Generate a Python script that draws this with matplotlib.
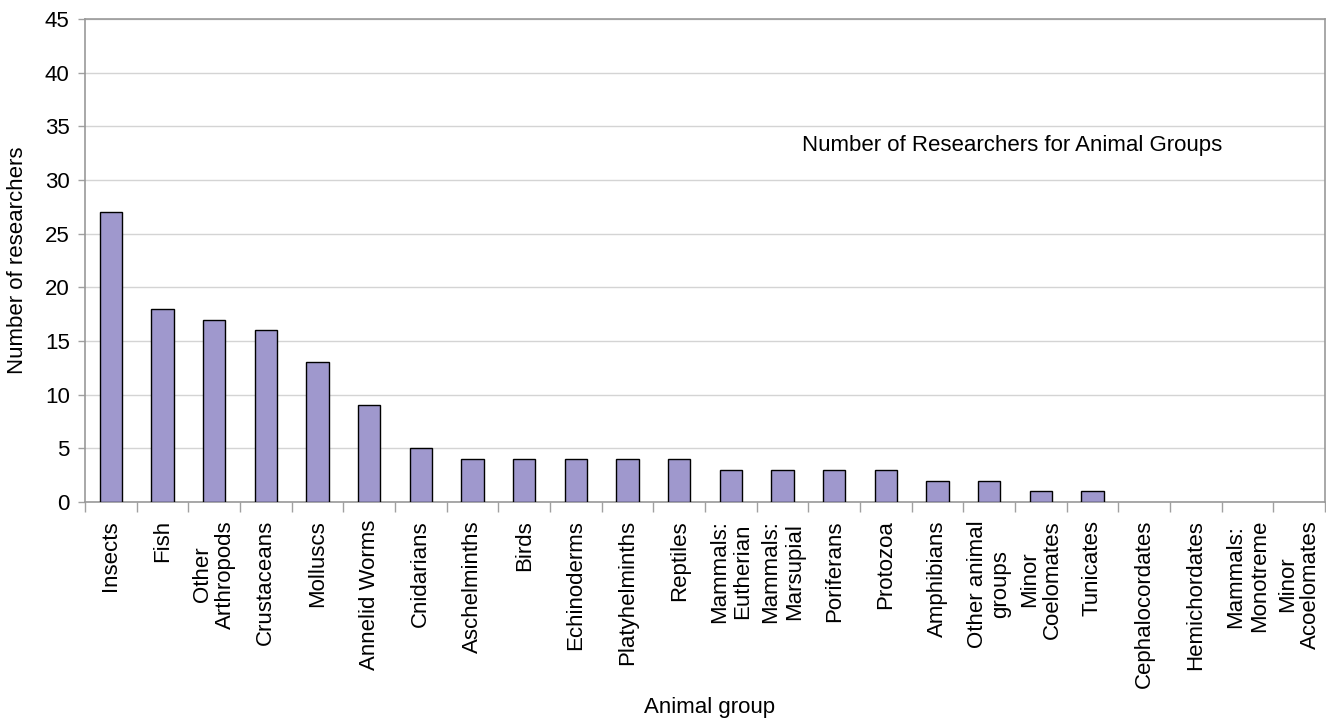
import matplotlib.pyplot as plt
import numpy as np

plt.rcParams['font.family'] = ['Liberation Sans', 'DejaVu Sans']

# data
groups = ['Insects', 'Fish', 'Other\nArthropods', 'Crustaceans', 'Molluscs',
          'Annelid Worms', 'Cnidarians', 'Aschelminths', 'Birds', 'Echinoderms',
          'Platyhelminths', 'Reptiles', 'Mammals:\nEutherian', 'Mammals:\nMarsupial',
          'Poriferans', 'Protozoa', 'Amphibians', 'Other animal\ngroups',
          'Minor\nCoelomates', 'Tunicates', 'Cephalocordates', 'Hemichordates',
          'Mammals:\nMonotreme', 'Minor\nAcoelomates']
researchers = [27, 18, 17, 16, 13, 9, 5, 4, 4, 4, 4, 4, 3, 3, 3, 3, 2, 2, 1, 1, 0, 0, 0, 0]
y_ticks = [0, 5, 10, 15, 20, 25, 30, 35, 40, 45]

FS = 16

fig = plt.figure(figsize=(13.26, 7.2), dpi=100)
ax = fig.add_axes([85 / 1326, 218 / 720, 1240 / 1326, 483 / 720])

x = np.arange(len(groups))
bars = ax.bar(x, researchers, width=0.43, color='#9F98CD', edgecolor='black',
              linewidth=1, zorder=3)
# no outline on empty bars, the reference shows nothing there
for b, v in zip(bars, researchers):
    if v == 0:
        b.set_linewidth(0)

ax.set_xlim(-0.5, len(groups) - 0.5)
ax.set_ylim(0, 45)
ax.set_yticks(y_ticks)
ax.yaxis.grid(True, color='#D4D4D4', linewidth=1, zorder=0)

ax.set_xticks(x)
ax.set_xticklabels(groups, rotation=90, fontsize=FS, va='top', ha='center',
                   linespacing=1.15)
ax.set_xticks(np.arange(-0.5, len(groups)), minor=True)
ax.tick_params(axis='x', which='major', length=0, pad=13)
ax.tick_params(axis='x', which='minor', length=7, color='#A0A0A0', width=1)
ax.tick_params(axis='y', length=5, color='#A0A0A0', width=1, labelsize=FS, pad=6)

for side in ['left', 'bottom', 'top', 'right']:
    ax.spines[side].set_color('#999999')
    ax.spines[side].set_linewidth(1.2)

ax.text(0.578, 0.739, 'Number of Researchers for Animal Groups', transform=ax.transAxes,
        fontsize=FS, ha='left', va='center')

fig.text(18 / 1326, 1 - 260 / 720, 'Number of researchers', rotation=90,
         fontsize=FS, ha='center', va='center')
fig.text(710 / 1326, 1 - 708 / 720, 'Animal group', fontsize=FS, ha='center', va='center')

fig.savefig('out.png', dpi=100)
